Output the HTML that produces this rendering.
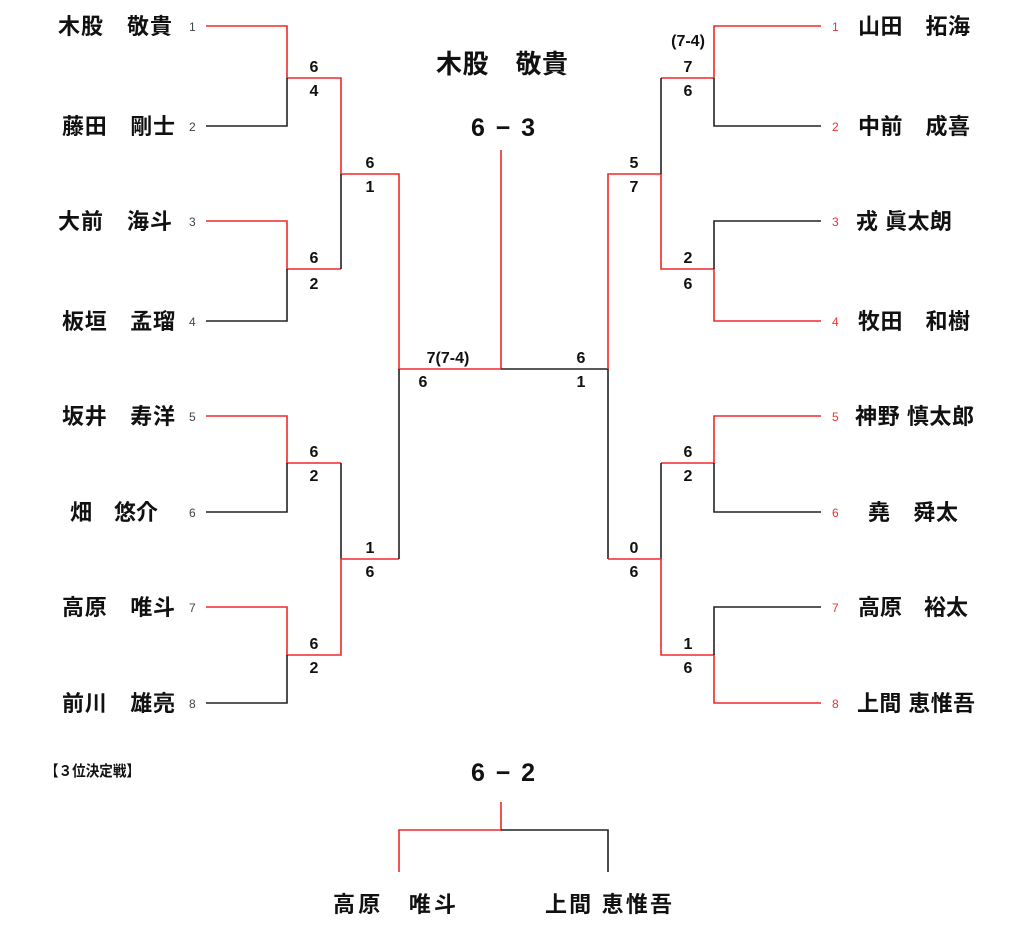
<!DOCTYPE html>
<html><head><meta charset="utf-8"><style>
html,body{margin:0;padding:0;background:#fff;}
svg{display:block;font-family:"Liberation Sans","Noto Sans CJK JP",sans-serif;}
.n{font-size:22px;font-weight:bold;fill:#111;}
.s{font-size:12px;fill:#444;}
.sr{font-size:12px;fill:#f03030;}
.c{font-size:16px;font-weight:bold;fill:#111;text-anchor:middle;}
.r{stroke:#f02828;stroke-width:1.6;fill:none;}
.b{stroke:#222;stroke-width:1.6;fill:none;}
</style></head><body>
<svg width="1024" height="936" viewBox="0 0 1024 936">
<!-- left names -->
<text class="n" x="58" y="34" textLength="114" lengthAdjust="spacing">木股　敬貴</text>
<text class="n" x="62" y="134" textLength="113" lengthAdjust="spacing">藤田　剛士</text>
<text class="n" x="58" y="229" textLength="114" lengthAdjust="spacing">大前　海斗</text>
<text class="n" x="62" y="329" textLength="113" lengthAdjust="spacing">板垣　孟瑠</text>
<text class="n" x="62" y="424" textLength="113" lengthAdjust="spacing">坂井　寿洋</text>
<text class="n" x="70" y="520" textLength="88" lengthAdjust="spacing">畑　悠介</text>
<text class="n" x="62" y="615" textLength="113" lengthAdjust="spacing">高原　唯斗</text>
<text class="n" x="62" y="711" textLength="113" lengthAdjust="spacing">前川　雄亮</text>
<g class="s">
<text x="189" y="31">1</text><text x="189" y="131">2</text><text x="189" y="226">3</text><text x="189" y="326">4</text>
<text x="189" y="421">5</text><text x="189" y="517">6</text><text x="189" y="612">7</text><text x="189" y="708">8</text>
</g>
<!-- right names -->
<text class="n" x="858" y="34" textLength="112" lengthAdjust="spacing">山田　拓海</text>
<text class="n" x="858" y="134" textLength="112" lengthAdjust="spacing">中前　成喜</text>
<text class="n" x="856" y="229" textLength="96" lengthAdjust="spacing">戎 眞太朗</text>
<text class="n" x="858" y="329" textLength="112" lengthAdjust="spacing">牧田　和樹</text>
<text class="n" x="855" y="424" textLength="119" lengthAdjust="spacing">神野 慎太郎</text>
<text class="n" x="868" y="520" textLength="90" lengthAdjust="spacing">堯　舜太</text>
<text class="n" x="858" y="615" textLength="110" lengthAdjust="spacing">高原　裕太</text>
<text class="n" x="857" y="711" textLength="118" lengthAdjust="spacing">上間 恵惟吾</text>
<g class="sr">
<text x="832" y="31">1</text><text x="832" y="131">2</text><text x="832" y="226">3</text><text x="832" y="326">4</text>
<text x="832" y="421">5</text><text x="832" y="517">6</text><text x="832" y="612">7</text><text x="832" y="708">8</text>
</g>
<!-- left lines -->
<path class="r" d="M206 26 H287 V78 H341 V174 H399 V369 H501"/>
<path class="b" d="M206 126 H287 V78"/>
<path class="r" d="M206 221 H287 V269 H341"/>
<path class="b" d="M341 269 V174"/>
<path class="b" d="M206 321 H287 V269"/>
<path class="r" d="M206 416 H287 V463 H341"/>
<path class="b" d="M206 512 H287 V463"/>
<path class="b" d="M341 463 V559"/>
<path class="r" d="M206 607 H287 V655 H341 V559 H399"/>
<path class="b" d="M206 703 H287 V655"/>
<path class="b" d="M399 559 V369"/>
<path class="r" d="M501 150 V369"/>
<!-- right lines -->
<path class="b" d="M501 369 H608 V559"/>
<path class="r" d="M608 369 V174 H661 V269 H714 V321 H821"/>
<path class="r" d="M821 26 H714 V78 H661"/>
<path class="b" d="M661 78 V174"/>
<path class="b" d="M821 126 H714 V78"/>
<path class="b" d="M821 221 H714 V269"/>
<path class="r" d="M821 416 H714 V463 H661"/>
<path class="b" d="M821 512 H714 V463"/>
<path class="b" d="M661 463 V559"/>
<path class="r" d="M608 559 H661 V655 H714 V703 H821"/>
<path class="b" d="M821 607 H714 V655"/>
<!-- scores left -->
<text class="c" x="314" y="72">6</text><text class="c" x="314" y="96">4</text>
<text class="c" x="314" y="263">6</text><text class="c" x="314" y="289">2</text>
<text class="c" x="314" y="457">6</text><text class="c" x="314" y="481">2</text>
<text class="c" x="314" y="649">6</text><text class="c" x="314" y="673">2</text>
<text class="c" x="370" y="168">6</text><text class="c" x="370" y="192">1</text>
<text class="c" x="370" y="553">1</text><text class="c" x="370" y="577">6</text>
<text class="c" x="448" y="363">7(7-4)</text><text class="c" x="423" y="387">6</text>
<!-- scores right -->
<text class="c" x="688" y="46">(7-4)</text>
<text class="c" x="688" y="72">7</text><text class="c" x="688" y="96">6</text>
<text class="c" x="688" y="263">2</text><text class="c" x="688" y="289">6</text>
<text class="c" x="688" y="457">6</text><text class="c" x="688" y="481">2</text>
<text class="c" x="688" y="649">1</text><text class="c" x="688" y="673">6</text>
<text class="c" x="634" y="168">5</text><text class="c" x="634" y="192">7</text>
<text class="c" x="634" y="553">0</text><text class="c" x="634" y="577">6</text>
<text class="c" x="581" y="363">6</text><text class="c" x="581" y="387">1</text>
<!-- center -->
<text x="436" y="73" style="font-size:26px;font-weight:bold;fill:#111" textLength="132" lengthAdjust="spacing">木股　敬貴</text>
<text x="471" y="136" style="font-size:25px;font-weight:bold;fill:#111" textLength="64" lengthAdjust="spacing">6 − 3</text>
<!-- third place -->
<text x="45" y="776" style="font-size:15px;font-weight:bold;fill:#111" textLength="95" lengthAdjust="spacingAndGlyphs">【３位決定戦】</text>
<text x="471" y="781" style="font-size:25px;font-weight:bold;fill:#111" textLength="64" lengthAdjust="spacing">6 − 2</text>
<path class="r" d="M501 802 V830 H399 V872"/>
<path class="b" d="M501 830 H608 V872"/>
<text class="n" x="333" y="912" textLength="123" lengthAdjust="spacing">高原　唯斗</text>
<text class="n" x="545" y="912" textLength="127" lengthAdjust="spacing">上間 恵惟吾</text>
</svg>
</body></html>
